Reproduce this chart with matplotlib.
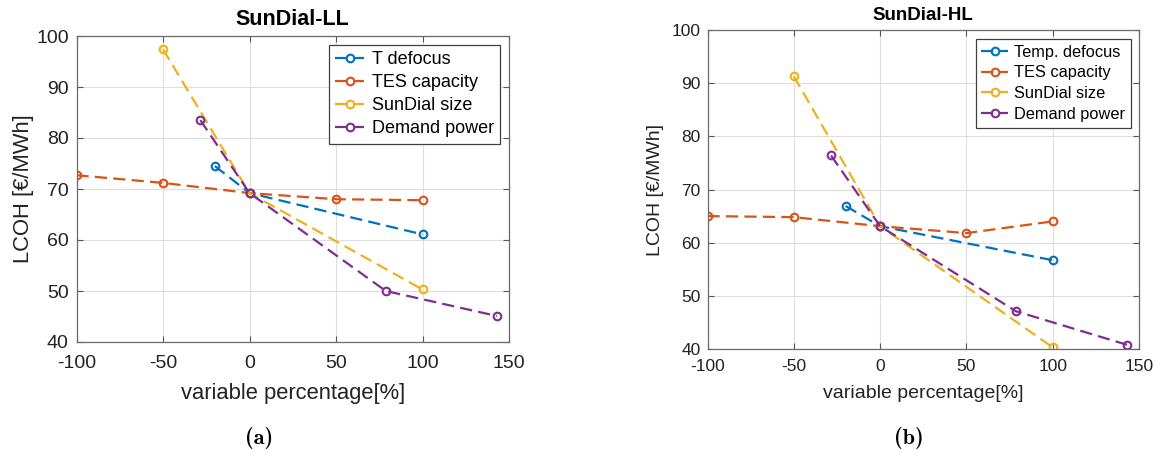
import matplotlib
matplotlib.use("Agg")
import matplotlib.pyplot as plt

plt.rcParams['font.family'] = ['Liberation Sans', 'DejaVu Sans']
plt.rcParams['axes.unicode_minus'] = False

# ---------------- data ----------------
ll_title = "SunDial-LL"
hl_title = "SunDial-HL"

ll_labels = ["T defocus", "TES capacity", "SunDial size", "Demand power"]
hl_labels = ["Temp. defocus", "TES capacity", "SunDial size", "Demand power"]

# SunDial-LL
ll_tdef_x = [-20, 0, 100]
ll_tdef_y = [74.5, 69.2, 61.1]
ll_tes_x = [-100, -50, 0, 50, 100]
ll_tes_y = [72.7, 71.2, 69.2, 68.0, 67.8]
ll_size_x = [-50, 0, 100]
ll_size_y = [97.4, 69.2, 50.3]
ll_dem_x = [-28.4, 0, 78.8, 143]
ll_dem_y = [83.5, 69.2, 50.0, 45.1]

# SunDial-HL
hl_tdef_x = [-20, 0, 100]
hl_tdef_y = [66.9, 63.1, 56.7]
hl_tes_x = [-100, -50, 0, 50, 100]
hl_tes_y = [65.0, 64.8, 63.1, 61.8, 64.0]
hl_size_x = [-50, 0, 100]
hl_size_y = [91.3, 63.1, 40.3]
hl_dem_x = [-28.4, 0, 78.7, 143]
hl_dem_y = [76.4, 63.1, 47.1, 40.8]

xticks = [-100, -50, 0, 50, 100, 150]
yticks = [40, 50, 60, 70, 80, 90, 100]
xlabel = "variable percentage[%]"
ylabel = "LCOH [€/MWh]"
captions = ["(a)", "(b)"]

colors = ["#0072BD", "#D95319", "#EDB120", "#7E2F8E"]

W, H = 1158, 451
fig = plt.figure(figsize=(W / 100, H / 100), dpi=100)


def px_axes(x0, x1, y0, y1):
    return fig.add_axes([x0 / W, 1 - y1 / H, (x1 - x0) / W, (y1 - y0) / H])


def setup(ax, series, labels, title, tick_fs, lab_fs, title_fs, leg_fs,
          title_y, xlab_y, ylab_x, leg_anchor, xpad, ypad, ax_px, lspace):
    x0, x1, y0, y1 = ax_px
    for (xs, ys), lab, c in zip(series, labels, colors):
        ax.plot(xs, ys, linestyle='--', dashes=(5.5, 2.8), color=c, lw=1.6,
                marker='o', markersize=5.5, markerfacecolor='none',
                markeredgewidth=1.5, label=lab)
    ax.set_xlim(-100, 150)
    ax.set_ylim(40, 100)
    ax.set_xticks(xticks)
    ax.set_yticks(yticks)
    ax.grid(True, color='#dedede', lw=0.8)
    ax.set_axisbelow(True)
    ax.tick_params(direction='in', length=4, width=0.8, colors='#555555',
                   labelcolor='#222222', labelsize=tick_fs,
                   top=True, right=True)
    ax.tick_params(axis='x', pad=xpad)
    ax.tick_params(axis='y', pad=ypad)
    for s in ax.spines.values():
        s.set_color('#6a6a6a')
        s.set_linewidth(0.9)
    ax.text(0.5, 1 + (y0 - title_y) / (y1 - y0), title, transform=ax.transAxes,
            fontsize=title_fs, fontweight='bold', color='black',
            ha='center', va='center')
    ax.set_xlabel(xlabel, fontsize=lab_fs, color='#222222')
    ax.xaxis.set_label_coords(0.5, (y1 - xlab_y) / (y1 - y0))
    ax.xaxis.label.set_va('center')
    ax.set_ylabel(ylabel, fontsize=lab_fs, color='#222222')
    ax.yaxis.set_label_coords((ylab_x - x0) / (x1 - x0), 0.5)
    ax.yaxis.label.set_va('center')
    leg = ax.legend(loc='upper right', bbox_to_anchor=leg_anchor,
                    borderaxespad=0, fontsize=leg_fs, frameon=True,
                    fancybox=False, framealpha=1, edgecolor='#404040',
                    handlelength=1.6, handletextpad=0.4, labelspacing=lspace,
                    borderpad=0.35)
    leg.get_frame().set_linewidth(0.9)
    for t in leg.get_texts():
        t.set_color('black')


# left panel
axL_px = (76.5, 509, 36, 342)
axL = px_axes(*axL_px)
setup(axL,
      [(ll_tdef_x, ll_tdef_y), (ll_tes_x, ll_tes_y),
       (ll_size_x, ll_size_y), (ll_dem_x, ll_dem_y)],
      ll_labels, ll_title, tick_fs=14, lab_fs=15.8, title_fs=15.5, leg_fs=13,
      title_y=19.5, xlab_y=393, ylab_x=24,
      leg_anchor=((500 - 76.5) / (509 - 76.5), (342 - 45) / (342 - 36)),
      xpad=9, ypad=5.5, ax_px=axL_px, lspace=0.33)

# right panel
axR_px = (707.5, 1139, 30, 349)
axR = px_axes(*axR_px)
setup(axR,
      [(hl_tdef_x, hl_tdef_y), (hl_tes_x, hl_tes_y),
       (hl_size_x, hl_size_y), (hl_dem_x, hl_dem_y)],
      hl_labels, hl_title, tick_fs=12.5, lab_fs=14, title_fs=13.5, leg_fs=11.8,
      title_y=16, xlab_y=393, ylab_x=655,
      leg_anchor=((1131 - 707.5) / (1139 - 707.5), (349 - 39) / (349 - 30)),
      xpad=7.5, ypad=5, ax_px=axR_px, lspace=0.35)

fig.text(259 / W, 1 - 438 / H, captions[0], family='cmb10', fontsize=16,
         ha='center', va='center')
fig.text(909 / W, 1 - 438 / H, captions[1], family='cmb10', fontsize=16,
         ha='center', va='center')

fig.savefig("out.png", dpi=100)
